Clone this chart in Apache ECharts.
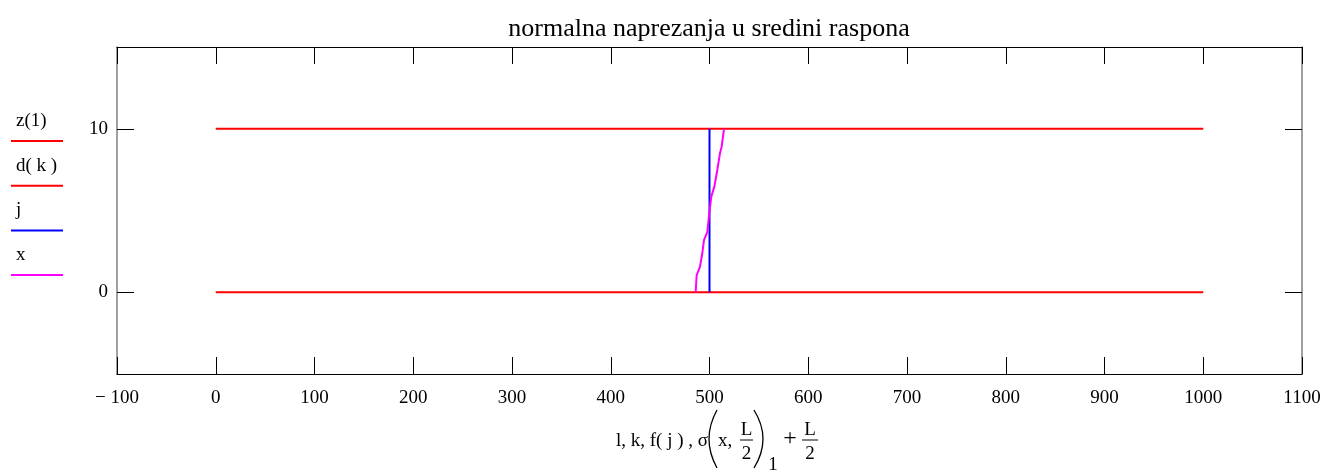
<!DOCTYPE html>
<html>
<head>
<meta charset="utf-8">
<script src="https://cdn.jsdelivr.net/npm/echarts@6/dist/echarts.min.js"></script>
<style>
  html, body { margin:0; padding:0; background:#fff; }
  #chart { width:1328px; height:471px; }
</style>
</head>
<body>
<div id="chart"></div>
<script>
// axis ranges / ticks
const X_MIN = -100, X_MAX = 1100, X_STEP = 100;
const Y_MIN = -5, Y_MAX = 15;
const yTicks = [0, 10];

// z(1) and d(k): the two red horizontal lines
const zX = [0, 1000];
const zY = [10, 10];
const dX = [0, 1000];
const dY = [0, 0];

// j: blue vertical line at mid-span
const jX = [500, 500];
const jY = [0, 10];

// x: magenta stress curve (stress value, height)
const sigX = [486, 487, 490.3, 492.7, 494.4, 497.8, 499.8, 501.8, 504.9, 507.9, 510.6, 512.3, 514.7];
const sigY = [0, 1.04, 1.55, 2.37, 3.19, 3.7, 4.83, 5.85, 6.46, 7.48, 8.5, 8.9, 10];

const legendItems = [
  { name: "z(1)",   color: "#ff0000" },
  { name: "d( k )", color: "#ff0000" },
  { name: "j",      color: "#0000ff" },
  { name: "x",      color: "#ff00ff" }
];

const TITLE = "normalna naprezanja u sredini raspona";
const FONT = "'Liberation Serif', 'Times New Roman', serif";

function pairs(xs, ys){ return xs.map((v, i) => [v, ys[i]]); }

function fmtX(v){
  if(v < 0) return "\u2212 " + Math.abs(v);
  return String(v);
}

function lineSeries(name, xs, ys, color){
  return {
    name, type: "line", data: pairs(xs, ys),
    showSymbol: false, symbol: "none", animation: false,
    lineStyle: { color, width: 2 }, itemStyle: { color },
    xAxisIndex: 0, yAxisIndex: 0
  };
}

function legendGraphic(){
  const g = [];
  legendItems.forEach((it, i) => {
    const lineY = 141 + i * 44.7;
    g.push({
      type: "text", x: 16, y: lineY - 20,
      style: { text: it.name, font: "19px " + FONT, fill: "#000", verticalAlign: "middle" }
    });
    g.push({
      type: "line", shape: { x1: 11, y1: lineY, x2: 63, y2: lineY },
      style: { stroke: it.color, lineWidth: 2 }
    });
  });
  return g;
}

function axisNameGraphic(){
  const f = "19px " + FONT;
  const t = (text, x, y, align, size) => ({
    type: "text", x, y,
    style: { text, font: (size ? size + "px " + FONT : f), fill: "#000", align: align || "center", verticalAlign: "middle" }
  });
  const ln = (x1, y1, x2, y2) => ({
    type: "line", shape: { x1, y1, x2, y2 }, style: { stroke: "#000", lineWidth: 1 }
  });
  const paren = (x, cpx) => ({
    type: "bezierCurve",
    shape: { x1: x, y1: 410, x2: x, y2: 468, cpx1: cpx, cpy1: 439 },
    style: { stroke: "#000", lineWidth: 1.3, fill: null }
  });
  return [
    t("l, k, f( j ) , \u03c3", 708, 441, "right"),
    paren(717, 701),
    t("x,", 718, 441, "left"),
    t("L", 746.5, 430), ln(740, 440, 753, 440), t("2", 746.5, 454),
    paren(754, 772),
    t("1", 773, 465),
    t("+", 790, 439, "center", 24),
    t("L", 810, 430), ln(802, 440, 818, 440), t("2", 810, 454)
  ];
}

function init(){
  const chart = echarts.init(document.getElementById("chart"), null, { renderer: "canvas" });
  const axisLabel = { color: "#000", fontFamily: FONT, fontSize: 19 };
  chart.setOption({
    animation: false,
    backgroundColor: "#fff",
    grid: { left: 117, right: 26, top: 47, bottom: 97, containLabel: false },
    xAxis: [
      {
        type: "value", min: X_MIN, max: X_MAX, interval: X_STEP, position: "bottom",
        axisLine: { show: true, onZero: false, lineStyle: { color: "#000", width: 1 } },
        axisTick: { show: true, inside: true, length: 17, lineStyle: { color: "#000" } },
        axisLabel: Object.assign({ margin: 15, formatter: fmtX }, axisLabel),
        splitLine: { show: false }
      },
      {
        type: "value", min: X_MIN, max: X_MAX, interval: X_STEP, position: "top",
        axisLine: { show: true, onZero: false, lineStyle: { color: "#000", width: 1 } },
        axisTick: { show: true, inside: true, length: 17, lineStyle: { color: "#000" } },
        axisLabel: { show: false },
        splitLine: { show: false }
      }
    ],
    yAxis: [
      {
        type: "value", min: Y_MIN, max: Y_MAX, position: "left",
        axisLine: { show: true, onZero: false, lineStyle: { color: "#808080", width: 1.5 } },
        axisTick: { show: true, inside: true, length: 17, customValues: yTicks, lineStyle: { color: "#000" } },
        axisLabel: Object.assign({ margin: 9, customValues: yTicks }, axisLabel),
        splitLine: { show: false }
      },
      {
        type: "value", min: Y_MIN, max: Y_MAX, position: "right",
        axisLine: { show: true, onZero: false, lineStyle: { color: "#808080", width: 1.5 } },
        axisTick: { show: true, inside: true, length: 17, customValues: yTicks, lineStyle: { color: "#000" } },
        axisLabel: { show: false },
        splitLine: { show: false }
      }
    ],
    series: [
      lineSeries("z(1)", zX, zY, "#ff0000"),
      lineSeries("d(k)", dX, dY, "#ff0000"),
      lineSeries("j", jX, jY, "#0000ff"),
      lineSeries("x", sigX, sigY, "#ff00ff")
    ],
    graphic: [
      {
        type: "text", x: 709, y: 29,
        style: { text: TITLE, font: "26px " + FONT, fill: "#000", align: "center", verticalAlign: "middle" }
      }
    ].concat(legendGraphic(), axisNameGraphic())
  });
}
document.addEventListener("DOMContentLoaded", init);
</script>
</body>
</html>
